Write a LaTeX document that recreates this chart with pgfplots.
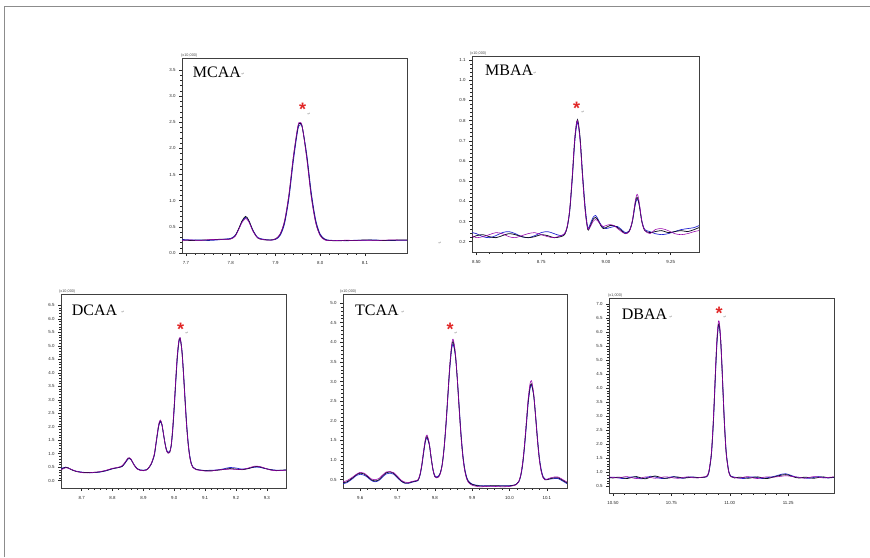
\documentclass[border=0pt]{standalone}
\usepackage{fontspec}
\setmainfont{Liberation Serif}
\newfontfamily\tickfont{Liberation Sans}
\newfontfamily\dejavu{DejaVu Sans}
\usepackage{pgfplots}
\pgfplotsset{compat=1.18}
\usepackage{pgfplotstable}

\definecolor{trA}{RGB}{15,15,35}
\definecolor{trB}{RGB}{40,40,210}
\definecolor{trC}{RGB}{150,0,170}
\definecolor{star}{RGB}{225,40,40}

\pgfplotsset{
  chrom/.style={
    scale only axis, anchor=north west,
    axis line style={black!75, line width=0.6pt},
    tick align=outside, xtick pos=bottom, ytick pos=left,
    minor x tick num=4, minor y tick num=4,
    major tick length=3pt, minor tick length=1.6pt,
    tick style={black!85, line width=0.55pt},
    ticklabel style={font=\tickfont\fontsize{4.4}{5}\selectfont, text=black!85},
    /pgf/number format/assume math mode=true,
    scaled ticks=false,
    xticklabel shift=1.5pt,
    y tick label style={/pgf/number format/.cd, fixed, fixed zerofill, precision=1},
    every axis plot/.append style={smooth, no markers},
  },
}

% retention time (min) vs response, three overlaid injections
\pgfplotstableread{
x a b c
7.690 0.25 0.26 0.24
7.710 0.24 0.25 0.25
7.730 0.245 0.25 0.24
7.750 0.25 0.24 0.255
7.770 0.26 0.25 0.26
7.790 0.265 0.27 0.26
7.800 0.27 0.28 0.27
7.810 0.33 0.34 0.32
7.820 0.51 0.50 0.49
7.825 0.61 0.60 0.58
7.833 0.70 0.68 0.66
7.840 0.63 0.62 0.60
7.850 0.42 0.43 0.41
7.860 0.29 0.30 0.29
7.870 0.26 0.27 0.26
7.880 0.25 0.255 0.25
7.890 0.25 0.25 0.245
7.900 0.27 0.26 0.27
7.910 0.35 0.33 0.36
7.920 0.59 0.55 0.61
7.930 1.10 1.04 1.12
7.940 1.83 1.76 1.85
7.950 2.40 2.36 2.43
7.955 2.48 2.45 2.50
7.960 2.40 2.40 2.41
7.970 1.83 1.88 1.80
7.980 1.10 1.16 1.07
7.990 0.59 0.63 0.57
8.000 0.34 0.36 0.33
8.010 0.26 0.27 0.25
8.020 0.24 0.245 0.235
8.040 0.235 0.24 0.24
8.060 0.24 0.235 0.245
8.080 0.24 0.245 0.24
8.100 0.25 0.245 0.245
8.120 0.245 0.25 0.24
8.140 0.24 0.24 0.245
8.160 0.245 0.24 0.25
8.194 0.25 0.245 0.245
}\mcaa

\pgfplotstableread{
x a b c
8.483 0.22 0.245 0.23
8.500 0.23 0.24 0.22
8.525 0.235 0.225 0.225
8.550 0.225 0.22 0.235
8.575 0.22 0.23 0.245
8.600 0.23 0.245 0.24
8.625 0.24 0.25 0.225
8.650 0.235 0.24 0.22
8.675 0.225 0.225 0.23
8.700 0.22 0.22 0.24
8.725 0.225 0.23 0.245
8.750 0.235 0.245 0.235
8.775 0.23 0.25 0.225
8.800 0.22 0.24 0.22
8.825 0.225 0.23 0.23
8.840 0.235 0.24 0.24
8.850 0.27 0.27 0.275
8.860 0.355 0.35 0.36
8.870 0.52 0.51 0.53
8.880 0.715 0.70 0.72
8.890 0.805 0.79 0.80
8.900 0.715 0.71 0.70
8.910 0.52 0.53 0.51
8.920 0.355 0.37 0.35
8.930 0.26 0.27 0.265
8.940 0.28 0.29 0.275
8.950 0.31 0.32 0.30
8.960 0.32 0.33 0.31
8.970 0.305 0.31 0.30
8.980 0.28 0.285 0.285
8.990 0.265 0.27 0.275
9.000 0.27 0.265 0.28
9.015 0.28 0.27 0.285
9.030 0.28 0.275 0.28
9.045 0.27 0.275 0.265
9.060 0.255 0.26 0.25
9.075 0.24 0.245 0.24
9.090 0.253 0.255 0.25
9.100 0.29 0.29 0.295
9.105 0.325 0.32 0.33
9.110 0.37 0.36 0.375
9.115 0.405 0.395 0.415
9.120 0.42 0.41 0.435
9.125 0.405 0.40 0.42
9.130 0.37 0.37 0.38
9.135 0.325 0.33 0.33
9.140 0.29 0.295 0.29
9.150 0.255 0.26 0.255
9.170 0.245 0.25 0.24
9.190 0.25 0.24 0.26
9.215 0.255 0.235 0.265
9.240 0.245 0.24 0.255
9.265 0.25 0.25 0.24
9.290 0.255 0.26 0.235
9.315 0.25 0.265 0.24
9.340 0.26 0.27 0.25
9.359 0.27 0.28 0.255
}\mbaa

\pgfplotstableread{
x a b c
8.633 0.42 0.45 0.40
8.640 0.46 0.48 0.44
8.648 0.50 0.50 0.48
8.656 0.48 0.47 0.47
8.665 0.42 0.42 0.43
8.680 0.35 0.36 0.36
8.700 0.31 0.32 0.30
8.720 0.30 0.30 0.29
8.740 0.31 0.30 0.31
8.760 0.33 0.32 0.34
8.780 0.38 0.37 0.39
8.800 0.45 0.44 0.46
8.815 0.48 0.48 0.49
8.830 0.53 0.52 0.55
8.840 0.66 0.64 0.68
8.850 0.83 0.80 0.84
8.855 0.84 0.82 0.85
8.860 0.79 0.78 0.80
8.870 0.58 0.59 0.58
8.880 0.44 0.45 0.43
8.890 0.39 0.40 0.38
8.900 0.38 0.39 0.37
8.910 0.40 0.41 0.40
8.915 0.45 0.45 0.44
8.925 0.62 0.60 0.63
8.935 0.95 0.92 0.97
8.940 1.32 1.28 1.35
8.945 1.72 1.68 1.75
8.950 2.08 2.04 2.12
8.955 2.22 2.18 2.25
8.960 2.08 2.07 2.10
8.965 1.73 1.74 1.74
8.970 1.38 1.40 1.37
8.975 1.12 1.15 1.10
8.980 1.03 1.06 1.02
8.985 1.05 1.08 1.04
8.990 1.30 1.28 1.32
8.995 1.92 1.85 1.98
9.000 2.78 2.70 2.85
9.005 3.75 3.66 3.82
9.010 4.63 4.55 4.70
9.015 5.18 5.12 5.22
9.018 5.28 5.24 5.30
9.020 5.24 5.22 5.25
9.025 4.78 4.82 4.74
9.030 3.94 4.00 3.90
9.035 2.97 3.05 2.92
9.040 2.06 2.14 2.02
9.045 1.37 1.43 1.34
9.050 0.90 0.95 0.88
9.055 0.63 0.66 0.62
9.060 0.50 0.52 0.49
9.070 0.42 0.43 0.41
9.080 0.40 0.40 0.39
9.100 0.37 0.38 0.36
9.120 0.37 0.39 0.36
9.140 0.39 0.40 0.40
9.160 0.42 0.44 0.41
9.180 0.45 0.49 0.43
9.200 0.43 0.47 0.42
9.220 0.41 0.43 0.42
9.240 0.45 0.46 0.47
9.260 0.52 0.50 0.54
9.275 0.52 0.50 0.53
9.290 0.47 0.46 0.48
9.310 0.41 0.42 0.40
9.330 0.38 0.39 0.37
9.350 0.39 0.39 0.38
9.362 0.40 0.40 0.39
}\dcaa

\pgfplotstableread{
x a b c
9.554 0.42 0.40 0.45
9.565 0.45 0.43 0.48
9.580 0.55 0.53 0.57
9.590 0.63 0.61 0.64
9.600 0.67 0.64 0.69
9.610 0.65 0.62 0.67
9.620 0.58 0.56 0.60
9.630 0.50 0.48 0.52
9.640 0.47 0.45 0.50
9.650 0.50 0.48 0.53
9.660 0.60 0.57 0.62
9.670 0.68 0.65 0.70
9.680 0.70 0.67 0.71
9.690 0.66 0.64 0.68
9.700 0.57 0.55 0.59
9.710 0.47 0.46 0.49
9.720 0.42 0.41 0.44
9.730 0.42 0.41 0.43
9.740 0.45 0.44 0.46
9.750 0.47 0.46 0.48
9.755 0.49 0.48 0.50
9.760 0.62 0.60 0.63
9.765 0.87 0.84 0.88
9.770 1.22 1.18 1.24
9.775 1.52 1.48 1.55
9.779 1.60 1.56 1.64
9.785 1.41 1.40 1.44
9.790 1.06 1.07 1.08
9.795 0.75 0.77 0.76
9.800 0.58 0.60 0.58
9.805 0.55 0.57 0.55
9.810 0.58 0.60 0.57
9.815 0.68 0.69 0.66
9.820 0.91 0.90 0.89
9.825 1.34 1.31 1.32
9.830 1.95 1.90 1.93
9.835 2.68 2.62 2.66
9.840 3.39 3.32 3.40
9.845 3.89 3.82 3.93
9.849 4.02 3.95 4.08
9.855 3.68 3.66 3.74
9.860 3.08 3.10 3.10
9.865 2.34 2.40 2.33
9.870 1.64 1.70 1.62
9.875 1.10 1.15 1.08
9.880 0.75 0.79 0.73
9.885 0.55 0.58 0.53
9.890 0.45 0.47 0.43
9.900 0.38 0.39 0.36
9.920 0.34 0.35 0.32
9.940 0.34 0.35 0.33
9.960 0.35 0.34 0.33
9.980 0.34 0.35 0.32
10.000 0.34 0.35 0.33
10.015 0.37 0.37 0.36
10.020 0.40 0.40 0.39
10.025 0.46 0.45 0.46
10.030 0.61 0.59 0.62
10.035 0.90 0.86 0.92
10.040 1.35 1.30 1.38
10.045 1.92 1.86 1.96
10.050 2.50 2.44 2.56
10.055 2.87 2.82 2.95
10.058 2.94 2.90 3.02
10.060 2.91 2.88 2.99
10.065 2.63 2.64 2.68
10.070 2.09 2.13 2.10
10.075 1.50 1.56 1.50
10.080 1.02 1.07 1.01
10.085 0.72 0.76 0.71
10.090 0.56 0.58 0.55
10.095 0.50 0.52 0.50
10.100 0.50 0.51 0.51
10.110 0.53 0.52 0.55
10.120 0.55 0.53 0.57
10.130 0.55 0.53 0.57
10.140 0.50 0.48 0.52
10.154 0.42 0.40 0.44
}\tcaa

\pgfplotstableread{
x a b c
10.483 0.82 0.80 0.84
10.500 0.80 0.83 0.82
10.520 0.83 0.81 0.80
10.540 0.81 0.78 0.83
10.560 0.78 0.80 0.85
10.580 0.82 0.84 0.81
10.600 0.85 0.83 0.78
10.620 0.80 0.77 0.80
10.640 0.77 0.80 0.84
10.660 0.83 0.86 0.82
10.680 0.87 0.84 0.79
10.700 0.83 0.79 0.81
10.720 0.79 0.78 0.84
10.740 0.80 0.82 0.83
10.760 0.84 0.85 0.80
10.780 0.83 0.81 0.79
10.800 0.80 0.79 0.82
10.820 0.81 0.83 0.84
10.840 0.83 0.84 0.81
10.860 0.82 0.81 0.80
10.880 0.82 0.82 0.83
10.900 0.85 0.84 0.86
10.910 1.00 0.98 1.02
10.920 1.56 1.52 1.60
10.925 2.12 2.06 2.18
10.930 2.89 2.80 2.96
10.935 3.84 3.74 3.92
10.940 4.83 4.72 4.92
10.945 5.68 5.58 5.78
10.950 6.20 6.12 6.30
10.953 6.29 6.22 6.40
10.956 6.20 6.16 6.30
10.961 5.68 5.70 5.74
10.966 4.83 4.90 4.86
10.971 3.84 3.93 3.86
10.976 2.89 2.98 2.90
10.981 2.12 2.20 2.12
10.986 1.56 1.62 1.55
10.996 1.00 1.03 0.99
11.006 0.85 0.86 0.84
11.020 0.80 0.83 0.82
11.040 0.83 0.80 0.79
11.060 0.81 0.78 0.83
11.080 0.79 0.82 0.85
11.100 0.82 0.84 0.80
11.120 0.84 0.81 0.78
11.140 0.80 0.78 0.82
11.160 0.78 0.81 0.84
11.180 0.82 0.84 0.83
11.200 0.86 0.88 0.84
11.220 0.90 0.93 0.86
11.240 0.92 0.95 0.88
11.260 0.88 0.90 0.86
11.280 0.82 0.84 0.84
11.300 0.80 0.82 0.82
11.320 0.83 0.80 0.79
11.340 0.81 0.79 0.82
11.360 0.79 0.82 0.85
11.380 0.82 0.85 0.83
11.400 0.84 0.82 0.80
11.420 0.81 0.80 0.82
11.446 0.83 0.82 0.84
}\dbaa

\newcommand\traces[1]{%
  \addplot[trB, line width=0.7pt] table[x=x, y=b] {#1};
  \addplot[trA, line width=0.75pt] table[x=x, y=a] {#1};
  \addplot[trC, line width=0.55pt] table[x=x, y=c] {#1};
}

\begin{document}
\begin{tikzpicture}
\useasboundingbox (0pt,0pt) rectangle (870pt,-557pt);
\draw[black!45, line width=0.8pt] (4pt,-557pt) -- (4pt,-6pt) -- (870pt,-6pt);

% MCAA
\begin{axis}[chrom, at={(182pt,-58pt)}, width=225pt, height=195pt,
  xmin=7.691, xmax=8.194, ymin=0, ymax=3.73,
  xtick={7.7,7.8,7.9,8.0,8.1}, ytick={0,0.5,...,3.5},
  x tick label style={/pgf/number format/.cd, fixed, fixed zerofill, precision=1}]
\traces{\mcaa}
\end{axis}

% MBAA
\begin{axis}[chrom, at={(472pt,-56pt)}, width=227pt, height=196pt,
  xmin=8.483, xmax=9.359, ymin=0.149, ymax=1.12,
  xtick={8.5,8.75,9.0,9.25}, ytick={0.2,0.3,...,1.1},
  x tick label style={/pgf/number format/.cd, fixed, fixed zerofill, precision=2}]
\traces{\mbaa}
\end{axis}

% DCAA
\begin{axis}[chrom, at={(61pt,-294pt)}, width=225pt, height=194pt,
  xmin=8.633, xmax=9.362, ymin=-0.27, ymax=6.92,
  xtick={8.7,8.8,8.9,9.0,9.1,9.2,9.3}, ytick={0,0.5,...,6.5},
  x tick label style={/pgf/number format/.cd, fixed, fixed zerofill, precision=1}]
\traces{\dcaa}
\end{axis}

% TCAA
\begin{axis}[chrom, at={(343pt,-294pt)}, width=224pt, height=194pt,
  xmin=9.554, xmax=10.154, ymin=0.29, ymax=5.23,
  xtick={9.6,9.7,9.8,9.9,10.0,10.1}, ytick={0.5,1.0,...,5.0},
  x tick label style={/pgf/number format/.cd, fixed, fixed zerofill, precision=1}]
\traces{\tcaa}
\end{axis}

% DBAA
\begin{axis}[chrom, at={(609pt,-298pt)}, width=225pt, height=195pt,
  xmin=10.483, xmax=11.446, ymin=0.265, ymax=7.21,
  xtick={10.5,10.75,11.0,11.25}, ytick={0.5,1.0,...,7.0},
  x tick label style={/pgf/number format/.cd, fixed, fixed zerofill, precision=2}]
\traces{\dbaa}
\end{axis}

% multipliers
\begin{scope}[every node/.style={anchor=south west, inner sep=0pt, font=\tickfont\fontsize{3.8}{4}\selectfont, text=black!70}]
\node at (181pt,-57pt) {(x10,000)};
\node at (470pt,-55pt) {(x10,000)};
\node at (59pt,-293pt) {(x10,000)};
\node at (340pt,-293pt) {(x10,000)};
\node at (608pt,-297pt) {(x1,000)};
\end{scope}

% compound names
\begin{scope}[every node/.style={anchor=north west, inner sep=0pt, font=\fontsize{16}{16}\selectfont, text=black}]
\node at (192.7pt,-66.7pt) {MCAA};
\node at (485pt,-65pt) {MBAA};
\node at (71.7pt,-304.3pt) {DCAA};
\node at (355pt,-304.3pt) {TCAA};
\node at (621.7pt,-308.3pt) {DBAA};
\end{scope}

% asterisks
\begin{scope}[every node/.style={anchor=north, inner sep=0pt, text=star, font=\tickfont\bfseries\fontsize{18}{18}\selectfont}]
\node at (302.7pt,-103.3pt) {*};
\node at (576.7pt,-101.7pt) {*};
\node at (180.7pt,-322.7pt) {*};
\node at (450pt,-322.7pt) {*};
\node at (719pt,-306.7pt) {*};
\end{scope}

% paragraph marks
\begin{scope}[every node/.style={inner sep=0pt, text=black!45, font=\dejavu\fontsize{4}{4}\selectfont}]
\node at (243pt,-74pt) {↵};
\node at (535pt,-73pt) {↵};
\node at (123pt,-312pt) {↵};
\node at (403pt,-312pt) {↵};
\node at (671pt,-317pt) {↵};
\node at (309pt,-114pt) {↵};
\node at (583pt,-112pt) {↵};
\node at (187pt,-333pt) {↵};
\node at (456pt,-333pt) {↵};
\node at (725pt,-317pt) {↵};
\node at (440pt,-243pt) {↵};
\end{scope}
\end{tikzpicture}
\end{document}
